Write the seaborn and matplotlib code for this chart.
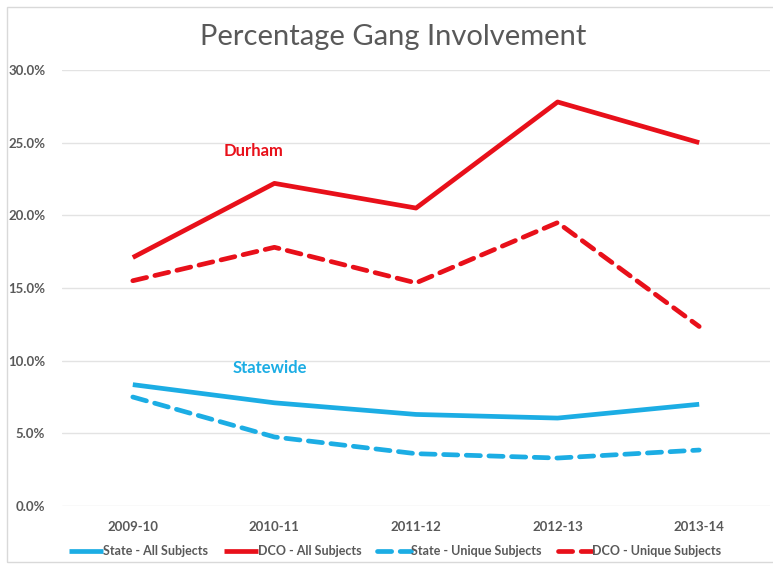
import matplotlib
matplotlib.use("Agg")
import matplotlib.pyplot as plt
import matplotlib.patches as mpatches
from matplotlib.ticker import PercentFormatter
import seaborn as sns
import pandas as pd

# ---- data ----
years = ["2009-10", "2010-11", "2011-12", "2012-13", "2013-14"]
state_all = [8.35, 7.1, 6.3, 6.05, 7.0]
dco_all = [17.1, 22.2, 20.5, 27.8, 25.0]
state_unique = [7.5, 4.75, 3.6, 3.3, 3.85]
dco_unique = [15.5, 17.8, 15.35, 19.5, 12.35]
series_names = ["State - All Subjects", "DCO - All Subjects",
                "State - Unique Subjects", "DCO - Unique Subjects"]
series_values = [state_all, dco_all, state_unique, dco_unique]
yticks = [0, 5, 10, 15, 20, 25, 30]

BLUE = "#1CADE4"
RED = "#E8101A"
colors = [BLUE, RED, BLUE, RED]
dashed = [False, False, True, True]

sns.set_theme(style="white")
plt.rcParams["font.family"] = ["Lato", "DejaVu Sans"]

W, H = 773, 565
fig = plt.figure(figsize=(W / 100, H / 100), dpi=100)
ax = fig.add_axes([62 / W, 1 - 506 / H, (770 - 62) / W, (506 - 70) / H])

# chart border
fig.patches.append(mpatches.Rectangle((7 / W, 3 / H), 1.0, 1 - 10 / H,
                                      transform=fig.transFigure, fill=False,
                                      edgecolor="#D9D9D9", lw=1, zorder=0))

for name, vals, c, d in zip(series_names, series_values, colors, dashed):
    df = pd.DataFrame({"year": years, "pct": vals})
    sns.lineplot(data=df, x="year", y="pct", ax=ax, color=c, lw=3.4,
                 label=name, sort=False, solid_capstyle="butt")
    line = ax.get_lines()[-1]
    if d:
        line.set_dashes((3.0, 1.8))
        line.set_dash_capstyle("round")

ax.set_xlim(-0.5, 4.5)
ax.set_ylim(0, 30)
ax.set_yticks(yticks)
ax.yaxis.set_major_formatter(PercentFormatter(decimals=1))
ax.grid(axis="y", color="#E3E3E3", lw=1)
ax.set_axisbelow(True)
for s in ax.spines.values():
    s.set_visible(False)
ax.set_xlabel("")
ax.set_ylabel("")
ax.tick_params(axis="both", length=0, labelsize=9.5, labelcolor="#595959")
ax.tick_params(axis="x", pad=11)
ax.tick_params(axis="y", pad=12)
for lab in ax.get_xticklabels() + ax.get_yticklabels():
    lab.set_fontweight("bold")

ax.text(0.856, 24.4, "Durham", color=RED, fontsize=12, fontweight="bold",
        ha="center", va="center")
ax.text(0.97, 9.5, "Statewide", color=BLUE, fontsize=12, fontweight="bold",
        ha="center", va="center")

fig.text(393 / W, 1 - 37 / H, "Percentage Gang Involvement", ha="center",
         va="center", fontsize=21, color="#595959")

leg = ax.legend(loc="center", bbox_to_anchor=(0.47, (506 - 551) / 436),
                ncol=4, frameon=False, handlelength=2.7, handletextpad=0.0,
                columnspacing=1.3, prop={"weight": "bold", "size": 9})
for t in leg.get_texts():
    t.set_color("#595959")

fig.savefig("out.png", dpi=100)
